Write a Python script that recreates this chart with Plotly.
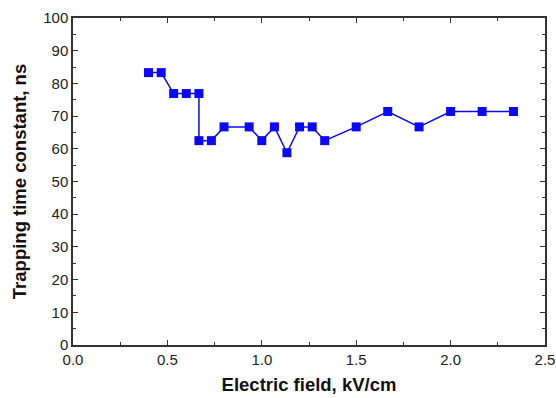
import plotly.graph_objects as go

field_kv_cm = [0.4, 0.467, 0.533, 0.6, 0.667, 0.667, 0.733, 0.8, 0.933, 1.0, 1.067,
               1.133, 1.2, 1.267, 1.333, 1.5, 1.667, 1.833, 2.0, 2.167, 2.333]
trap_ns = [83.3, 83.3, 76.9, 76.9, 76.9, 62.5, 62.5, 66.7, 66.7, 62.5, 66.7,
           58.8, 66.7, 66.7, 62.5, 66.7, 71.4, 66.7, 71.4, 71.4, 71.4]

x_ticks = [0.0, 0.5, 1.0, 1.5, 2.0, 2.5]
x_tick_labels = ["0.0", "0.5", "1.0", "1.5", "2.0", "2.5"]
y_ticks = [0, 10, 20, 30, 40, 50, 60, 70, 80, 90, 100]

blue = "#0A0AF5"
axis_col = "#333333"
font_fam = "Liberation Sans, Arial, sans-serif"

fig = go.Figure()
fig.add_trace(go.Scatter(
    x=field_kv_cm, y=trap_ns, mode="lines+markers",
    line=dict(color=blue, width=1.5),
    marker=dict(symbol="square", size=9, color=blue),
    showlegend=False, cliponaxis=False,
))

axis_common = dict(
    showline=True, linecolor=axis_col, linewidth=1.5, mirror="allticks",
    ticks="inside", ticklen=5, tickwidth=1.2, tickcolor=axis_col,
    showgrid=False, zeroline=False, automargin=False, ticklabeloverflow="allow",
    tickfont=dict(family=font_fam, size=15, color="#222222"),
)

fig.update_xaxes(
    range=[0, 2.5], tickvals=x_ticks, ticktext=x_tick_labels,
    minor=dict(ticks="inside", ticklen=3, tickwidth=1.2, tickcolor=axis_col, dtick=0.25, showgrid=False),
    title=dict(text="<b>Electric field, kV/cm</b>",
               font=dict(family=font_fam, size=18.5, color="#111111"),
               standoff=11),
    **axis_common,
)
fig.update_yaxes(
    range=[0, 100], tickvals=y_ticks,
    minor=dict(ticks="inside", ticklen=3, tickwidth=1.2, tickcolor=axis_col, dtick=5, showgrid=False),
    title=dict(text="<b>Trapping time constant, ns</b>",
               font=dict(family=font_fam, size=18.5, color="#111111"),
               standoff=12),
    **axis_common,
)

fig.update_layout(
    width=556, height=398,
    margin=dict(l=73, r=11, t=18, b=53),
    paper_bgcolor="white", plot_bgcolor="white",
)

fig.write_html("out.html", config={"displayModeBar": False},
               post_script="document.body.style.margin='0';document.body.style.overflow='hidden';")
